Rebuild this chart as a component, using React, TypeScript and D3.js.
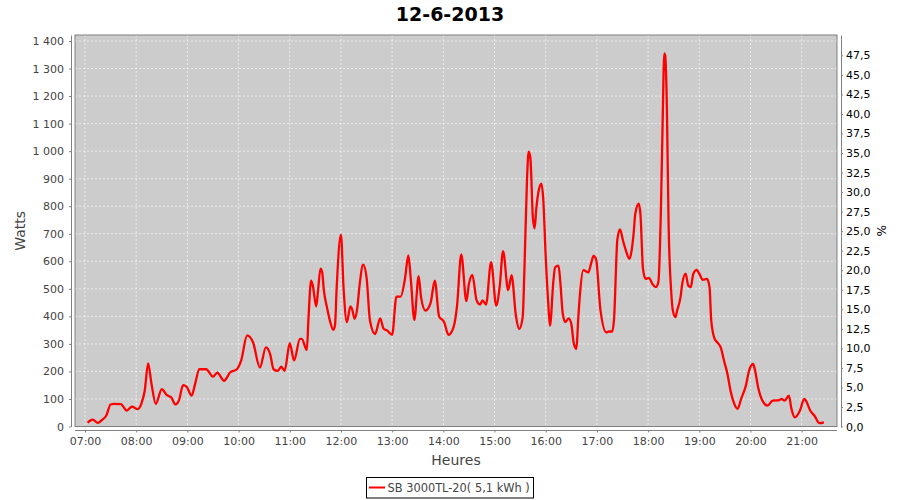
import React, { useEffect, useRef } from "react";
import * as d3 from "d3";

const chartTitle = "12-6-2013";
const chartDate = "2013-06-12";
const xLabel = "Heures";
const yLabel = "Watts";
const y2Label = "%";
const seriesName = "SB 3000TL-20( 5,1 kWh )";

const times = [
  "07:03", "07:09", "07:15", "07:20", "07:25", "07:30", "07:34", "07:42", "07:49", "07:55",
  "08:02", "08:06", "08:10", "08:14", "08:18", "08:23", "08:30", "08:36", "08:41", "08:46",
  "08:50", "08:55", "08:59", "09:05", "09:09", "09:14", "09:22", "09:30", "09:35", "09:43",
  "09:50", "09:58", "10:03", "10:10", "10:17", "10:25", "10:32", "10:37", "10:41", "10:46",
  "10:50", "10:54", "11:00", "11:05", "11:12", "11:14", "11:20", "11:22", "11:25", "11:27",
  "11:31", "11:33", "11:36", "11:38", "11:40", "11:44", "11:47", "11:51", "11:53", "11:55",
  "12:00", "12:03", "12:07", "12:11", "12:13", "12:16", "12:19", "12:22", "12:26", "12:30",
  "12:34", "12:40", "12:46", "12:50", "12:54", "13:00", "13:05", "13:10", "13:15", "13:19",
  "13:22", "13:26", "13:31", "13:34", "13:39", "13:45", "13:50", "13:55", "14:01", "14:06",
  "14:12", "14:16", "14:21", "14:27", "14:30", "14:34", "14:39", "14:43", "14:46", "14:50",
  "14:56", "15:02", "15:06", "15:10", "15:16", "15:20", "15:25", "15:29", "15:33", "15:35",
  "15:38", "15:40", "15:42", "15:45", "15:47", "15:49", "15:52", "15:55", "15:57", "16:00",
  "16:03", "16:05", "16:09", "16:11", "16:15", "16:17", "16:20", "16:23", "16:27", "16:30",
  "16:33", "16:36", "16:38", "16:40", "16:44", "16:50", "16:53", "16:56", "16:59", "17:04",
  "17:11", "17:14", "17:18", "17:20", "17:24", "17:27", "17:31", "17:34", "17:38", "17:40",
  "17:43", "17:45", "17:49", "17:51", "17:54", "17:57", "18:01", "18:05", "18:09", "18:12",
  "18:15", "18:17", "18:19", "18:20", "18:22", "18:24", "18:27", "18:29", "18:32", "18:34",
  "18:38", "18:40", "18:44", "18:47", "18:50", "18:53", "18:57", "19:00", "19:04", "19:09",
  "19:12", "19:14", "19:18", "19:21", "19:25", "19:29", "19:33", "19:37", "19:41", "19:45",
  "19:49", "19:54", "19:59", "20:03", "20:05", "20:09", "20:14", "20:20", "20:26", "20:34",
  "20:36", "20:40", "20:45", "20:48", "20:52", "20:58", "21:03", "21:05", "21:10", "21:15",
  "21:21", "21:26",
];

const watts = [
  14, 25, 13, 24, 40, 80, 82, 81, 58, 72,
  63, 82, 130, 229, 154, 82, 136, 114, 106, 80,
  94, 150, 145, 112, 154, 208, 208, 181, 196, 166,
  196, 208, 239, 331, 305, 214, 287, 263, 208, 202,
  217, 202, 303, 240, 318, 318, 278, 397, 530, 512,
  436, 488, 573, 560, 494, 427, 385, 351, 367, 506,
  697, 506, 379, 436, 427, 391, 427, 518, 588, 542,
  385, 336, 393, 355, 349, 333, 472, 472, 536, 621,
  530, 387, 546, 467, 421, 448, 530, 400, 379, 333,
  361, 436, 625, 455, 518, 551, 458, 443, 458, 443,
  597, 439, 506, 637, 495, 550, 403, 354, 397, 566,
  891, 998, 976, 756, 720, 792, 861, 882, 831, 616,
  445, 366, 529, 578, 584, 529, 409, 379, 393, 372,
  300, 282, 385, 475, 568, 560, 590, 620, 608, 427,
  342, 345, 345, 387, 680, 716, 670, 639, 609, 627,
  700, 773, 809, 773, 573, 536, 540, 518, 506, 524,
  785, 1100, 1355, 1348, 1160, 736, 494, 421, 397, 421,
  470, 518, 555, 512, 506, 555, 569, 555, 533, 536,
  506, 385, 318, 306, 288, 239, 191, 124, 82, 64,
  100, 142, 209, 227, 209, 142, 94, 76, 94, 96,
  100, 94, 112, 64, 33, 58, 100, 94, 58, 39,
  12, 15,
];

const hourTicks = [
  "07:00", "08:00", "09:00", "10:00", "11:00", "12:00", "13:00", "14:00",
  "15:00", "16:00", "17:00", "18:00", "19:00", "20:00", "21:00",
];
const wattTicks = [0, 100, 200, 300, 400, 500, 600, 700, 800, 900, 1000, 1100, 1200, 1300, 1400];
const percentTicks = [
  0, 2.5, 5, 7.5, 10, 12.5, 15, 17.5, 20, 22.5, 25, 27.5, 30, 32.5, 35, 37.5, 40, 42.5, 45, 47.5,
];

const FONT = "DejaVu Sans";

export default function App() {
  const ref = useRef<SVGSVGElement>(null);

  useEffect(() => {
    const root = d3.select(ref.current);
    root.selectAll("*").remove();

    const W = 900;
    const H = 500;
    const plot = { left: 75, right: 837, top: 35, bottom: 426.5 };

    const parse = d3.timeParse("%Y-%m-%d %H:%M:%S");
    const t = (s: string) => parse(`${chartDate} ${s}:00`) as Date;
    const data = times.map((s, i) => ({ date: t(s), value: watts[i] }));

    const x = d3
      .scaleTime()
      .domain([parse(`${chartDate} 06:48:17`) as Date, parse(`${chartDate} 21:41:24`) as Date])
      .range([plot.left, plot.right]);
    const y = d3.scaleLinear().domain([0, 1421.8]).range([plot.bottom, plot.top]);
    const y2 = d3.scaleLinear().domain([0, 50.1]).range([plot.bottom, plot.top]);

    const fr = d3.formatLocale({
      decimal: ",",
      thousands: "\u00a0",
      grouping: [3],
      currency: ["", " €"],
    });
    const fmtW = fr.format(",d");
    const fmtP = fr.format(".1f");
    const fmtT = d3.timeFormat("%H:%M");

    root.append("rect").attr("width", W).attr("height", H).attr("fill", "#ffffff");

    // Title
    root
      .append("text")
      .attr("x", W / 2)
      .attr("y", 21)
      .attr("text-anchor", "middle")
      .attr("font-family", FONT)
      .attr("font-weight", "bold")
      .attr("font-size", 19)
      .attr("fill", "#000")
      .text(chartTitle);

    // Plot background
    root
      .append("rect")
      .attr("x", plot.left)
      .attr("y", plot.top)
      .attr("width", plot.right - plot.left)
      .attr("height", plot.bottom - plot.top)
      .attr("fill", "#cccccc");

    const hourDates = hourTicks.map(t);
    const grid = root.append("g");
    grid
      .selectAll("line.v")
      .data(hourDates)
      .join("line")
      .attr("x1", (d) => x(d))
      .attr("x2", (d) => x(d))
      .attr("y1", plot.top)
      .attr("y2", plot.bottom)
      .attr("stroke", "#f2f2f2")
      .attr("stroke-width", 0.8)
      .attr("stroke-dasharray", "2,2");
    grid
      .selectAll("line.h")
      .data(wattTicks)
      .join("line")
      .attr("x1", plot.left)
      .attr("x2", plot.right)
      .attr("y1", (d) => y(d))
      .attr("y2", (d) => y(d))
      .attr("stroke", "#f2f2f2")
      .attr("stroke-width", 0.8)
      .attr("stroke-dasharray", "2,2");

    // Series line
    const line = d3
      .line<{ date: Date; value: number }>()
      .x((d) => x(d.date))
      .y((d) => y(d.value))
      .curve(d3.curveMonotoneX);
    root
      .append("path")
      .datum(data)
      .attr("d", line)
      .attr("fill", "none")
      .attr("stroke", "#ff0000")
      .attr("stroke-width", 2.3)
      .attr("stroke-linejoin", "round");

    // Plot border
    root
      .append("rect")
      .attr("x", plot.left)
      .attr("y", plot.top)
      .attr("width", plot.right - plot.left)
      .attr("height", plot.bottom - plot.top)
      .attr("fill", "none")
      .attr("stroke", "#808080")
      .attr("stroke-width", 1);

    const styleAxis = (g: any, color: string) => {
      g.select(".domain").attr("stroke", "#808080");
      g.selectAll(".tick line").attr("stroke", "#808080");
      g.selectAll(".tick text")
        .attr("fill", color)
        .attr("font-family", FONT)
        .attr("font-size", 11);
    };

    // Left axis
    const gl = root
      .append("g")
      .attr("transform", `translate(71,0)`)
      .call(
        d3.axisLeft(y).tickValues(wattTicks).tickFormat((d: any) => fmtW(d)).tickSizeInner(2).tickSizeOuter(0).tickPadding(5)
      );
    styleAxis(gl, "#444444");

    // Right axis
    const gr = root
      .append("g")
      .attr("transform", `translate(841,0)`)
      .call(
        d3.axisRight(y2).tickValues(percentTicks).tickFormat((d: any) => fmtP(d)).tickSizeInner(2).tickSizeOuter(0).tickPadding(3)
      );
    styleAxis(gr, "#000000");

    // Bottom axis
    const gb = root
      .append("g")
      .attr("transform", `translate(0,430.5)`)
      .call(
        d3.axisBottom(x).tickValues(hourDates).tickFormat((d: any) => fmtT(d)).tickSizeInner(2).tickSizeOuter(0).tickPadding(5)
      );
    styleAxis(gb, "#444444");
    gb.select(".domain").attr("d", `M${plot.left},0H${plot.right}`);

    // Axis labels
    root
      .append("text")
      .attr("transform", `translate(25,${(plot.top + plot.bottom) / 2}) rotate(-90)`)
      .attr("text-anchor", "middle")
      .attr("font-family", FONT)
      .attr("font-size", 14)
      .attr("fill", "#444444")
      .text(yLabel);
    root
      .append("text")
      .attr("x", (plot.left + plot.right) / 2)
      .attr("y", 465)
      .attr("text-anchor", "middle")
      .attr("font-family", FONT)
      .attr("font-size", 14)
      .attr("fill", "#444444")
      .text(xLabel);
    root
      .append("text")
      .attr("transform", `translate(877,${(plot.top + plot.bottom) / 2}) rotate(90)`)
      .attr("text-anchor", "middle")
      .attr("font-family", FONT)
      .attr("font-size", 12)
      .attr("fill", "#000000")
      .text(y2Label);

    // Legend
    const lg = root.append("g");
    lg.append("rect")
      .attr("x", 366.5)
      .attr("y", 477.5)
      .attr("width", 167)
      .attr("height", 20.5)
      .attr("fill", "#ffffff")
      .attr("stroke", "#000000")
      .attr("stroke-width", 1);
    lg.append("line")
      .attr("x1", 369)
      .attr("x2", 385)
      .attr("y1", 487.5)
      .attr("y2", 487.5)
      .attr("stroke", "#ff0000")
      .attr("stroke-width", 2);
    lg.append("text")
      .attr("x", 387.5)
      .attr("y", 492)
      .attr("font-family", FONT)
      .attr("font-size", 11.4)
      .attr("fill", "#444444")
      .text(seriesName);
  }, []);

  return (
    <svg
      ref={ref}
      width={900}
      height={500}
      style={{ position: "absolute", left: 0, top: 0, display: "block" }}
    />
  );
}
